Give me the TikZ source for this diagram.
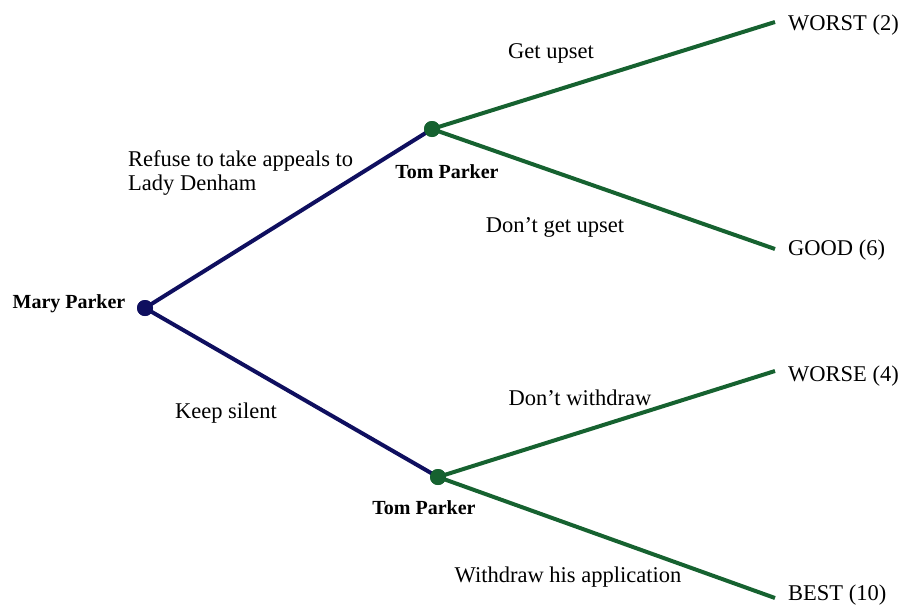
\documentclass[tikz,border=0pt]{standalone}
\usepackage{fontspec}
\setmainfont{Liberation Serif}
\definecolor{navyc}{RGB}{15,15,95}
\definecolor{greenc}{RGB}{22,98,48}
\begin{document}
\begin{tikzpicture}[x=1pt,y=-1pt,
  dotn/.style={circle,inner sep=0pt,minimum size=16pt},
  navyline/.style={draw=navyc,line width=4pt},
  greenline/.style={draw=greenc,line width=4pt},
  player/.style={font=\fontsize{20}{23}\selectfont\bfseries,inner sep=0pt},
  lbl/.style={font=\fontsize{22.5}{24}\selectfont,inner sep=0pt},
  outc/.style={font=\fontsize{22.5}{24}\selectfont,inner sep=0pt,anchor=west}]
\useasboundingbox (0,0) rectangle (902,608);
\node[dotn,fill=navyc] (r) at (145,308) {};
\node[dotn,fill=greenc] (t1) at (432,129) {};
\node[dotn,fill=greenc] (t2) at (438,477) {};
\coordinate (e1) at (775,22);
\coordinate (e2) at (775,249);
\coordinate (e3) at (775,371);
\coordinate (e4) at (775,598);
\draw[navyline] (r.center) -- (t1.center);
\draw[navyline] (r.center) -- (t2.center);
\draw[greenline] (t1.center) -- (e1);
\draw[greenline] (t1.center) -- (e2);
\draw[greenline] (t2.center) -- (e3);
\draw[greenline] (t2.center) -- (e4);
\node[dotn,fill=navyc] at (r) {};
\node[dotn,fill=greenc] at (t1) {};
\node[dotn,fill=greenc] at (t2) {};
\node[player] (mp) at (69,304) {Mary Parker};
\node[player] (tp1) at (447,172) {Tom Parker};
\node[player] (tp2) at (424,508) {Tom Parker};
\node[outc] (o1) at (788,25) {WORST (2)};
\node[outc] (o2) at (788,250) {GOOD (6)};
\node[outc] (o3) at (788,376) {WORSE (4)};
\node[outc] (o4) at (788,595) {BEST (10)};
\node[lbl] (l1) at (551,53) {Get upset};
\node[lbl] (l2) at (555,227) {Don’t get upset};
\node[lbl,align=left,anchor=west] (l3) at (128,173) {Refuse to take appeals to\\Lady Denham};
\node[lbl] (l4) at (226,413) {Keep silent};
\node[lbl] (l5) at (580,398) {Don’t withdraw};
\node[lbl] (l6) at (568,577) {Withdraw his application};
\end{tikzpicture}
\end{document}
